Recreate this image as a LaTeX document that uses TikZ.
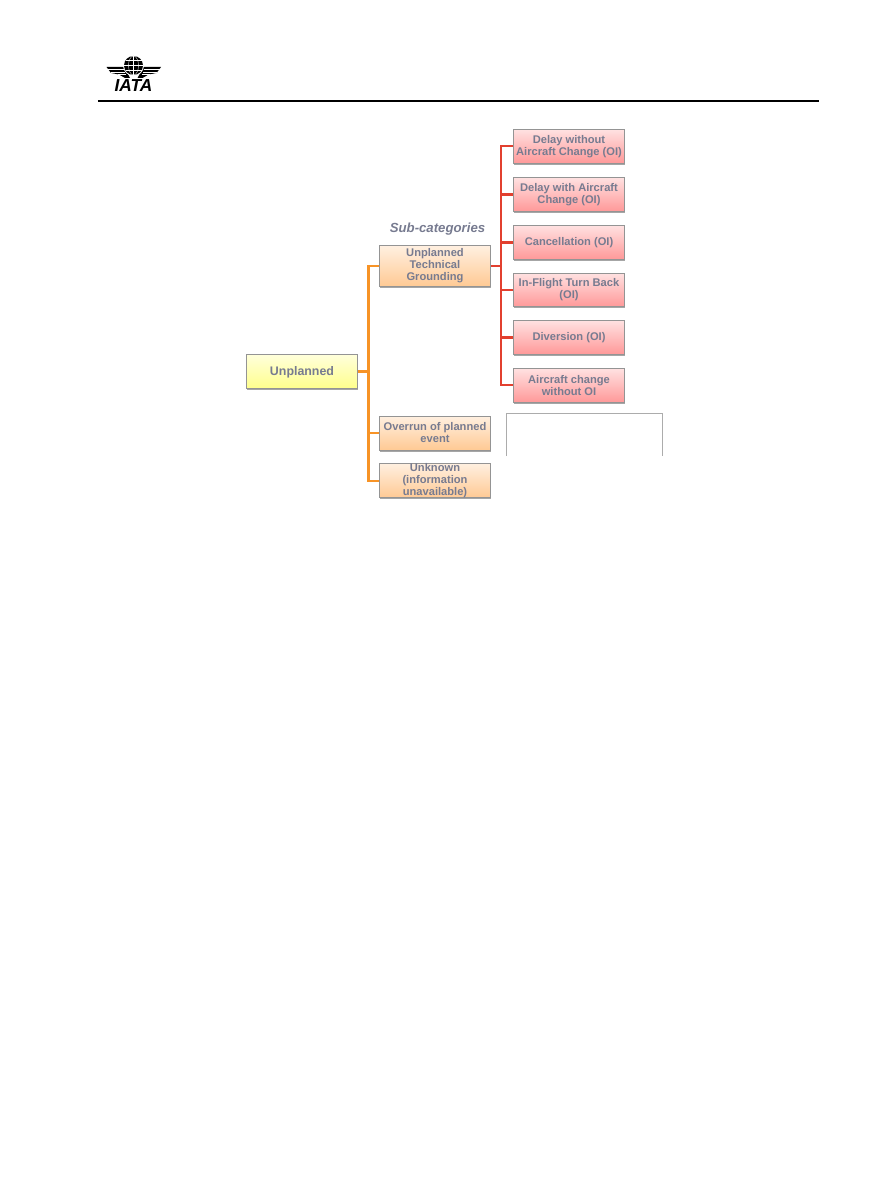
\documentclass[tikz,border=0pt]{standalone}
\usepackage{fontspec}
\setmainfont{Liberation Sans}
\usetikzlibrary{shadows}
\definecolor{labelgray}{HTML}{777B90}
\definecolor{edgegray}{HTML}{949494}
\definecolor{redline}{HTML}{E2402F}
\definecolor{orangeline}{HTML}{F79326}
\tikzset{
  catbox/.style={draw=edgegray, line width=0.75pt, text=labelgray, font=\bfseries\fontsize{8.35}{9}\selectfont, align=center, inner sep=0pt, drop shadow={shadow xshift=0.6pt, shadow yshift=-1.2pt, opacity=0.35, fill=black}},
  rootbox/.style={catbox, minimum width=83pt, minimum height=25.5pt, text depth=0pt, top color=yellow!14!white, bottom color=yellow!45!white, font=\bfseries\fontsize{9.3}{11}\selectfont},
  subbox/.style={catbox, minimum width=83.5pt, minimum height=25.5pt, top color=orange!12!white, bottom color=orange!42!white},
  outbox/.style={catbox, minimum width=83.5pt, minimum height=25pt, top color=red!12!white, bottom color=red!40!white},
  redlink/.style={redline, line width=1.6pt},
  orangelink/.style={orangeline, line width=1.6pt}
}
\begin{document}
\begin{tikzpicture}[x=0.75pt, y=-0.75pt]
      \useasboundingbox (0,0) rectangle (891,1188);

      % header
      \node (rule-left) [inner sep=0pt] at (97,101) {};
      \node (rule-right) [inner sep=0pt] at (820,101) {};
      \draw [line width=1.5pt] (rule-left) -- (rule-right);
      \node (logo-text) [font=\bfseries\itshape\fontsize{13}{13}\selectfont, inner sep=0pt, text depth=0pt] at (133.5,85.5) {IATA};
      \fill (106.5,67) -- (124,67) -- (130,78) -- (125,78) -- (119,74.5) -- (111,73) -- cycle;
      \fill (161,67) -- (143.5,67) -- (137.5,78) -- (142.5,78) -- (148.5,74.5) -- (156.5,73) -- cycle;
      \draw [white, line width=0.4pt] (108,69.5) -- (124,69.5) (111,72) -- (125,72) (118,74.5) -- (126,74.5);
      \draw [white, line width=0.4pt] (159.5,69.5) -- (143.5,69.5) (156.5,72) -- (142.5,72) (149.5,74.5) -- (141.5,74.5);
      \fill [white] (133.5,65.5) circle [radius=10.5];
      \fill (133.5,65.5) circle [radius=9.5];
      \draw [white, line width=0.25pt] (124,65.5) -- (143,65.5) (125.5,60.5) -- (141.5,60.5) (125.5,70.5) -- (141.5,70.5) (133.5,56) -- (133.5,75);
      \draw [white, line width=0.25pt] (133.5,65.5) ellipse [x radius=5, y radius=9.5];

      % tree
      \node (unplanned) [rootbox] at (302,371.5) {Unplanned};
      \node (sub-title) [text=labelgray, font=\bfseries\itshape\fontsize{9.9}{11}\selectfont, inner sep=0pt] at (437.5,229) {Sub-categories};
      \node (grounding) [subbox, minimum height=30.5pt] at (435,266) {Unplanned\\Technical\\Grounding};
      \node (overrun) [subbox] at (435,433) {Overrun of planned\\event};
      \node (unknown) [subbox] at (435,480.5) {Unknown\\(information\\unavailable)};

      \node (delay-no) [outbox] at (569,146.5) {Delay without\\Aircraft Change (OI)};
      \node (delay-with) [outbox] at (569,194.5) {Delay with Aircraft\\Change (OI)};
      \node (cancel) [outbox] at (569,242.5) {Cancellation (OI)};
      \node (turnback) [outbox] at (569,290) {In-Flight Turn Back\\(OI)};
      \node (diversion) [outbox] at (569,337.5) {Diversion (OI)};
      \node (ac-change) [outbox] at (569,385.5) {Aircraft change\\without OI};

      \coordinate (orange-top) at (368.5,266);
      \coordinate (orange-mid) at (368.5,371.5);
      \coordinate (orange-over) at (368.5,433);
      \coordinate (orange-bot) at (368.5,481);
      \coordinate (red-mid) at (501,266);
      \coordinate (red-top) at (501,146);
      \coordinate (red-bot) at (501,385);

      \draw [orangelink] (grounding.west |- orange-top) -- (orange-top) -- (orange-bot) -- (unknown.west |- orange-bot);
      \draw [orangelink] (unplanned.east) -- (orange-mid);
      \draw [orangelink] (orange-over) -- (overrun.west |- orange-over);

      \draw [redlink] (delay-no.west |- red-top) -- (red-top) -- (red-bot) -- (ac-change.west |- red-bot);
      \draw [redlink] (grounding.east) -- (red-mid);
      \draw [redlink] (delay-with.west) -| (red-mid);
      \draw [redlink] (cancel.west) -| (red-mid);
      \draw [redlink] (turnback.west) -| (red-mid);
      \draw [redlink] (diversion.west) -| (red-mid);

      % empty frame, open at the bottom
      \draw [gray!65, line width=0.6pt] (506.5,456) -- (506.5,413.5) -- (662.5,413.5) -- (662.5,456);
\end{tikzpicture}
\end{document}
